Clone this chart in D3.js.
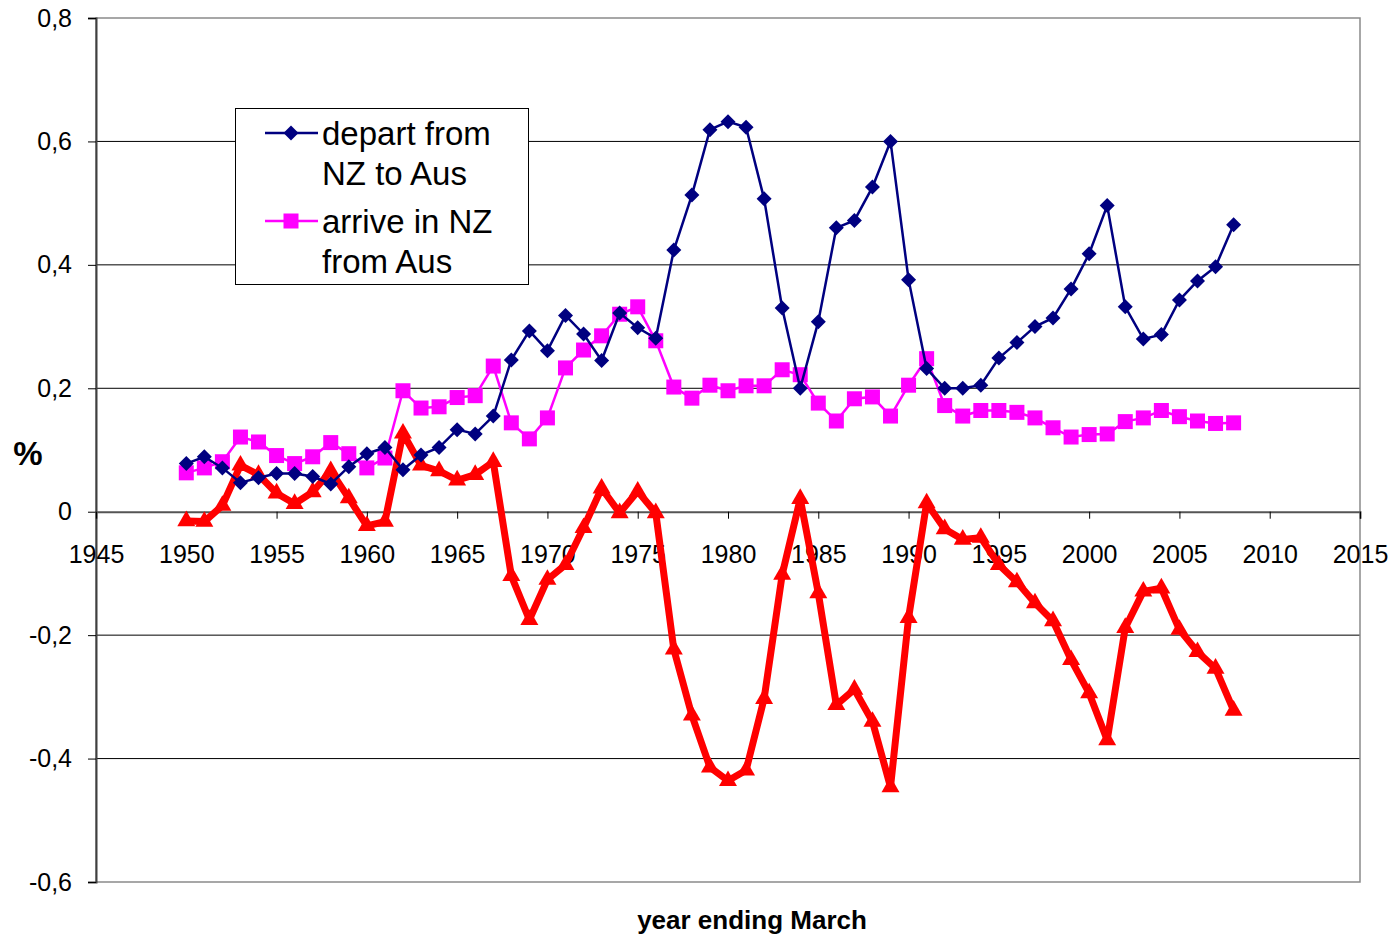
<!DOCTYPE html>
<html><head><meta charset="utf-8">
<script src="https://cdn.jsdelivr.net/npm/d3@7"></script>
<style>body{margin:0;background:#fff}svg{display:block}text{font-family:"Liberation Sans",Arial,sans-serif}</style>
</head><body>
<script>
const years = d3.range(1950, 2009);
const depart = [0.078,0.089,0.071,0.047,0.055,0.062,0.062,0.057,0.045,0.073,0.094,0.104,0.068,0.092,0.104,0.133,0.126,0.155,0.246,0.293,0.261,0.318,0.288,0.245,0.322,0.298,0.281,0.424,0.513,0.619,0.632,0.623,0.507,0.330,0.200,0.308,0.460,0.472,0.526,0.600,0.376,0.232,0.200,0.200,0.205,0.249,0.274,0.300,0.314,0.361,0.418,0.496,0.332,0.280,0.287,0.343,0.374,0.397,0.465];
const arrive = [0.063,0.071,0.081,0.121,0.113,0.091,0.078,0.089,0.112,0.094,0.071,0.087,0.196,0.168,0.170,0.185,0.188,0.236,0.144,0.118,0.152,0.233,0.262,0.285,0.320,0.332,0.277,0.202,0.184,0.205,0.196,0.204,0.204,0.230,0.222,0.176,0.147,0.183,0.186,0.155,0.205,0.248,0.172,0.155,0.164,0.164,0.161,0.152,0.136,0.121,0.125,0.126,0.146,0.152,0.164,0.154,0.147,0.143,0.144];
const net = [-0.015,-0.016,0.010,0.075,0.060,0.030,0.013,0.032,0.066,0.022,-0.023,-0.016,0.127,0.075,0.066,0.051,0.060,0.081,-0.104,-0.175,-0.110,-0.086,-0.026,0.038,-0.002,0.033,-0.002,-0.223,-0.330,-0.414,-0.436,-0.419,-0.303,-0.102,0.021,-0.132,-0.313,-0.288,-0.340,-0.446,-0.172,0.014,-0.028,-0.045,-0.042,-0.086,-0.114,-0.148,-0.177,-0.240,-0.294,-0.370,-0.188,-0.129,-0.124,-0.191,-0.227,-0.254,-0.322];
const xTicks = d3.range(1945, 2016, 5);
const yTicks = [-0.6,-0.4,-0.2,0,0.2,0.4,0.6,0.8];
const legendLabels = [["depart from","NZ to Aus"],["arrive in NZ","from Aus"]];

const W = 1393, H = 935;
const L = 96, R = 1360, T = 18, B = 882;
const FONT = '"Liberation Sans",Arial,sans-serif';
const svg = d3.select("body").append("svg").attr("width", W).attr("height", H);
const x = d3.scaleLinear().domain([1945, 2015]).range([L, R]);
const y = d3.scaleLinear().domain([-0.6, 0.8]).range([B, T]);
const fmt = v => v === 0 ? "0" : d3.format(".1f")(v).replace(".", ",").replace("−","-");

// gridlines
svg.append("g").selectAll("line").data(yTicks.filter(v => v !== 0 && v !== 0.8 && v !== -0.6)).join("line")
  .attr("x1", L).attr("x2", R).attr("y1", d => y(d)).attr("y2", d => y(d))
  .attr("stroke", "#000").attr("stroke-width", 1);
// plot border
svg.append("rect").attr("x", L).attr("y", T).attr("width", R - L).attr("height", B - T)
  .attr("fill", "none").attr("stroke", "#8a8a8a").attr("stroke-width", 1.5);

// y axis
const yAxis = svg.append("g").attr("transform", `translate(${L},0)`)
  .call(d3.axisLeft(y).tickValues(yTicks).tickFormat(fmt).tickSize(8).tickPadding(16));
yAxis.select(".domain").attr("stroke", "#404040").attr("stroke-width", 2);
yAxis.selectAll(".tick line").attr("stroke", "#000");
yAxis.selectAll("text").attr("font-size", 25).attr("fill", "#000").attr("font-family", FONT);

// x axis at zero
const xAxis = svg.append("g").attr("transform", `translate(0,${y(0)})`)
  .call(d3.axisBottom(x).tickValues(xTicks).tickFormat(d3.format("d")).tickSize(7).tickPadding(27));
xAxis.select(".domain").attr("stroke", "#555").attr("stroke-width", 2);
xAxis.selectAll(".tick line").attr("stroke", "#000");
xAxis.selectAll("text").attr("font-size", 25).attr("fill", "#000").attr("font-family", FONT);

// titles
svg.append("text").attr("x", 28).attr("y", 465).attr("text-anchor", "middle")
  .attr("font-size", 33).attr("font-weight", "bold").text("%");
svg.append("text").attr("x", 752).attr("y", 929).attr("text-anchor", "middle")
  .attr("font-size", 26).attr("font-weight", "bold").text("year ending March");

const line = d3.line().x((d, i) => x(years[i])).y(d => y(d));
const diamond = r => `M0,${-r}L${r},0L0,${r}L${-r},0Z`;
const tri = d3.symbol().type(d3.symbolTriangle).size(140);

// net (red)
svg.append("path").datum(net).attr("d", line).attr("fill", "none")
  .attr("stroke", "#ff0000").attr("stroke-width", 7).attr("stroke-linejoin", "round");
svg.append("g").selectAll("path").data(net).join("path")
  .attr("transform", (d, i) => `translate(${x(years[i])},${y(d)})`).attr("d", tri).attr("fill", "#ff0000");

// arrive (magenta)
svg.append("path").datum(arrive).attr("d", line).attr("fill", "none")
  .attr("stroke", "#ff00ff").attr("stroke-width", 2.5);
svg.append("g").selectAll("rect").data(arrive).join("rect")
  .attr("x", (d, i) => x(years[i]) - 7.5).attr("y", d => y(d) - 7.5)
  .attr("width", 15).attr("height", 15).attr("fill", "#ff00ff");

// depart (navy)
svg.append("path").datum(depart).attr("d", line).attr("fill", "none")
  .attr("stroke", "#000080").attr("stroke-width", 2.5);
svg.append("g").selectAll("path").data(depart).join("path")
  .attr("transform", (d, i) => `translate(${x(years[i])},${y(d)})`).attr("d", diamond(7.5)).attr("fill", "#000080");

// legend
const lg = svg.append("g");
lg.append("rect").attr("x", 235.5).attr("y", 108.5).attr("width", 293).attr("height", 176)
  .attr("fill", "#fff").attr("stroke", "#000").attr("stroke-width", 1);
const lgY = [133, 221];
const lgCol = ["#000080", "#ff00ff"];
legendLabels.forEach((lab, i) => {
  lg.append("line").attr("x1", 265).attr("x2", 318).attr("y1", lgY[i]).attr("y2", lgY[i])
    .attr("stroke", lgCol[i]).attr("stroke-width", 2.5);
  if (i === 0) lg.append("path").attr("transform", `translate(291,${lgY[i]})`).attr("d", diamond(7.5)).attr("fill", lgCol[i]);
  else lg.append("rect").attr("x", 283.5).attr("y", lgY[i] - 7.5).attr("width", 15).attr("height", 15).attr("fill", lgCol[i]);
  const t = lg.append("text").attr("font-size", 33).attr("fill", "#000");
  t.append("tspan").attr("x", 322).attr("y", lgY[i] + 12).text(lab[0]);
  t.append("tspan").attr("x", 322).attr("y", lgY[i] + 52).text(lab[1]);
});
</script>
</body></html>
